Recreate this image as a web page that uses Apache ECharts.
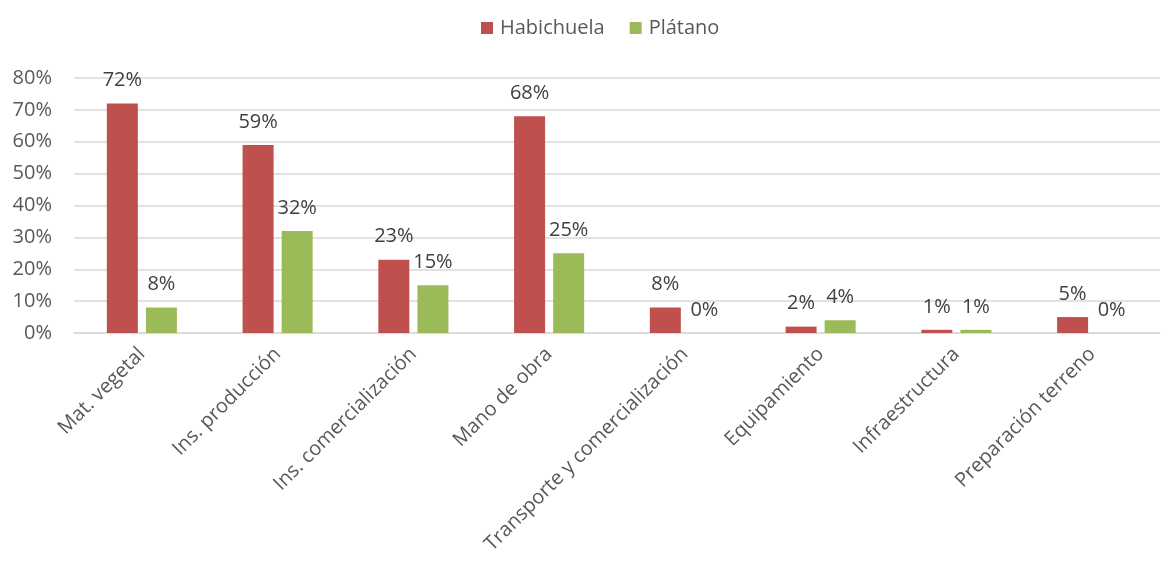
<!DOCTYPE html>
<html>
<head>
<meta charset="utf-8">
<script src="https://cdn.jsdelivr.net/npm/echarts@6/dist/echarts.min.js"></script>
<style>
html, body { margin: 0; padding: 0; background: #fff; }
#chart { width: 1162px; height: 563px; }
</style>
</head>
<body>
<div id="chart"></div>
<script>
// Cost categories on the x axis
const categories = [
  'Mat. vegetal',
  'Ins. producción',
  'Ins. comercialización',
  'Mano de obra',
  'Transporte y comercialización',
  'Equipamiento',
  'Infraestructura',
  'Preparación terreno'
];
// Share of each cost item, in percent
const habichuela = [72, 59, 23, 68, 8, 2, 1, 5];
const platano = [8, 32, 15, 25, 0, 4, 1, 0];
const seriesNames = ['Habichuela', 'Plátano'];

const FONT = '"Open Sans", "Noto Sans", sans-serif';
const TEXT = '#595959';

const chart = echarts.init(document.getElementById('chart'), null, { renderer: 'canvas' });

const labelCfg = {
  show: true,
  position: 'top',
  distance: 13,
  formatter: p => p.value + '%',
  color: '#404040',
  fontSize: 20,
  fontFamily: FONT
};

chart.setOption({
  animation: false,
  legend: {
    top: 13,
    left: 476,
    itemWidth: 12,
    itemHeight: 12,
    itemGap: 25,
    icon: 'rect',
    textStyle: { color: TEXT, fontSize: 20, fontFamily: FONT, padding: [0, 0, 0, 2] },
    data: seriesNames
  },
  grid: { left: 74, right: 2, top: 78, bottom: 230, containLabel: false },
  xAxis: {
    type: 'category',
    data: categories,
    axisLine: { show: true, lineStyle: { color: '#d9d9d9', width: 1.5 } },
    axisTick: { show: false },
    axisLabel: {
      rotate: 45,
      interval: 0,
      margin: 18,
      color: TEXT,
      fontSize: 20,
      fontFamily: FONT
    }
  },
  yAxis: {
    type: 'value',
    min: 0,
    max: 80,
    interval: 10,
    axisLine: { show: false },
    axisTick: { show: false },
    splitLine: { lineStyle: { color: '#d9d9d9', width: 1.5 } },
    axisLabel: {
      formatter: v => v + '%',
      margin: 22,
      color: TEXT,
      fontSize: 20,
      fontFamily: FONT
    }
  },
  series: [
    {
      name: seriesNames[0],
      type: 'bar',
      data: habichuela,
      barWidth: 31,
      barGap: '26%',
      itemStyle: { color: '#C0504D' },
      label: labelCfg
    },
    {
      name: seriesNames[1],
      type: 'bar',
      data: platano,
      barWidth: 31,
      barGap: '26%',
      itemStyle: { color: '#9BBB59' },
      label: labelCfg
    }
  ]
});
</script>
</body>
</html>
